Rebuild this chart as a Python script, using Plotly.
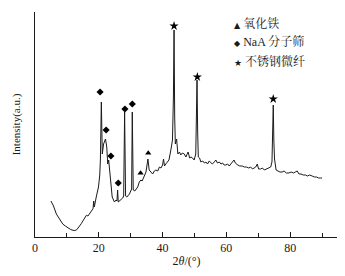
import plotly.graph_objects as go

# XRD pattern (2θ in degrees, intensity in arbitrary units)
two_theta = [5.0, 5.8, 6.7, 7.6, 8.7, 9.5, 10.3, 11.2, 11.9, 12.5, 13.1, 13.8, 14.5, 15.2, 15.8, 16.1,
             16.6, 17.1, 17.7, 18.2, 18.4, 18.6, 19.2, 19.9, 20.3, 20.5, 20.8, 21.1, 21.5, 21.8,
             22.1, 22.5, 22.8, 23.1, 23.4, 23.6, 24.2, 24.9, 25.4, 25.7, 25.9, 26.1, 26.5, 27.0,
             27.5, 27.8, 28.1, 28.4, 28.8, 29.6, 30.1, 30.3, 30.5, 30.8, 31.3, 31.7, 32.2, 32.7,
             33.2, 33.6, 34.0, 34.4, 34.8, 35.1, 35.4, 35.8, 36.3, 36.9, 37.4, 37.9, 38.5, 39.0,
             39.5, 40.0, 40.3, 40.6, 41.0, 41.5, 42.0, 42.6, 43.1, 43.4, 43.6, 43.8, 44.0, 44.4,
             44.8, 45.3, 45.7, 46.2, 46.8, 47.3, 47.7, 48.0, 48.5, 48.9, 49.4, 49.9, 50.4, 50.6,
             50.8, 51.0, 51.2, 51.6, 52.0, 52.6, 53.1, 53.6, 54.1, 54.6, 55.1, 55.6, 56.2, 56.7,
             57.2, 57.8, 58.3, 58.8, 59.3, 59.8, 60.4, 60.9, 61.4, 62.0, 62.4, 62.8, 63.1, 63.6,
             64.2, 65.0, 65.6, 66.3, 67.0, 67.6, 68.2, 68.7, 69.2, 69.7, 70.1, 70.7, 71.3, 71.9,
             72.8, 73.4, 73.9, 74.3, 74.5, 74.7, 74.9, 75.1, 75.6, 76.2, 76.8, 77.5, 78.1, 78.8,
             79.6, 80.3, 81.0, 81.6, 82.2, 82.8, 83.4, 84.1, 84.8, 85.4, 86.1, 86.9, 87.6, 88.3,
             88.9, 89.5, 90.0]
intensity = [36, 31, 23, 18, 13, 11, 9, 7.5, 6.7, 6.5, 7.3, 10, 13.3, 17, 20, 21.7,
             21, 23.3, 25, 28.3, 36, 30, 40, 50, 62, 77, 135, 83, 93, 96,
             98, 90, 73, 77, 66, 57, 40, 35, 37, 36, 47, 35, 36, 37,
             39, 41, 125, 41, 40, 43, 46, 48, 125, 47, 46, 48, 50, 55,
             57, 56, 60, 62, 65, 70, 78, 67, 65, 63, 66, 67, 66, 70,
             69, 72, 78, 71, 73, 75, 77, 87, 97, 140, 207, 120, 93, 98,
             83, 85, 82, 84, 83, 80, 84, 85, 79, 80, 79, 77, 83, 110,
             157, 105, 80, 79, 75, 76, 74, 75, 73, 76, 74, 73, 75, 77,
             74, 75, 73, 74, 72, 72, 73, 71, 73, 75, 77, 74, 73, 72,
             71, 71, 70, 70, 69, 70, 68, 69, 70, 73, 68, 68, 69, 67,
             68, 69, 70, 75, 100, 132, 95, 78, 67, 66, 65, 65, 66, 64,
             64, 65, 64, 65, 66, 63, 63, 62, 62, 61, 62, 61, 60, 60,
             59, 59, 59]

# Phase markers
fe_oxide_x = [33.1, 35.5]
fe_oxide_y = [64, 84]
naa_x = [20.4, 22.3, 23.8, 26.1, 28.2, 30.5]
naa_y = [145, 107, 81, 54, 128, 133]
steel_x = [43.6, 50.9, 74.7]
steel_y = [211, 160, 138]

series_names = ["氧化铁", "NaA 分子筛", "不锈钢微纤"]
key_glyphs = ["▲", "◆", "★"]

x_ticks = [0, 20, 40, 60, 80]

fig = go.Figure()
fig.add_trace(go.Scatter(x=two_theta, y=intensity, mode="lines",
                         line=dict(color="#1a1a1a", width=1), showlegend=False,
                         hoverinfo="skip"))
fig.add_trace(go.Scatter(x=fe_oxide_x, y=fe_oxide_y, mode="markers", name=series_names[0],
                         marker=dict(symbol="triangle-up", size=5.5, color="black")))
fig.add_trace(go.Scatter(x=naa_x, y=naa_y, mode="markers", name=series_names[1],
                         marker=dict(symbol="diamond", size=5.5, color="black")))
fig.add_trace(go.Scatter(x=steel_x, y=steel_y, mode="markers", name=series_names[2],
                         marker=dict(symbol="star", size=7, color="black")))

font_family = "Liberation Serif, Noto Serif CJK SC, Noto Sans CJK SC, serif"

# key written as text next to small symbol glyphs (as in the original figure)
key_y = [0.951, 0.867, 0.778]
glyph_sizes = [8, 8, 9]
annotations = []
for name, glyph, gs, ky in zip(series_names, key_glyphs, glyph_sizes, key_y):
    annotations.append(dict(
        xref="paper", yref="paper", x=0.650, y=ky, xanchor="left", yanchor="middle",
        showarrow=False,
        text=f'<span style="font-size:{gs}px;font-family:DejaVu Sans">{glyph}</span> {name}',
        font=dict(size=12, family=font_family, color="#1a1a1a")))

# the page body adds an 8px margin, so the figure is 8px smaller than the window
fig.update_layout(
    width=337, height=268,
    margin=dict(l=27, r=7, t=4, b=39),
    paper_bgcolor="white", plot_bgcolor="white",
    font=dict(family=font_family, size=11, color="#1a1a1a"),
    showlegend=False,
    annotations=annotations,
    xaxis=dict(range=[0, 95], showline=True, linecolor="#1a1a1a", linewidth=1,
               tickvals=x_ticks, ticks="inside", ticklen=5, tickcolor="#1a1a1a",
               minor=dict(dtick=10, tick0=0, ticks="inside", ticklen=4, tickcolor="#1a1a1a"),
               showgrid=False, zeroline=False, mirror=False, automargin=False,
               tickfont=dict(size=12, family=font_family),
               title=dict(text="2<i>θ</i>/(°)", standoff=2, font=dict(size=12, family=font_family))),
    yaxis=dict(range=[0, 225], showline=True, linecolor="#1a1a1a", linewidth=1,
               tickvals=[225], ticktext=[""], ticks="inside", ticklen=7, tickcolor="#1a1a1a",
               showgrid=False, zeroline=False, automargin=False,
               title=dict(text="Intensity(a.u.)", standoff=8, font=dict(size=11, family=font_family))),
)

fig.write_html("out.html")
